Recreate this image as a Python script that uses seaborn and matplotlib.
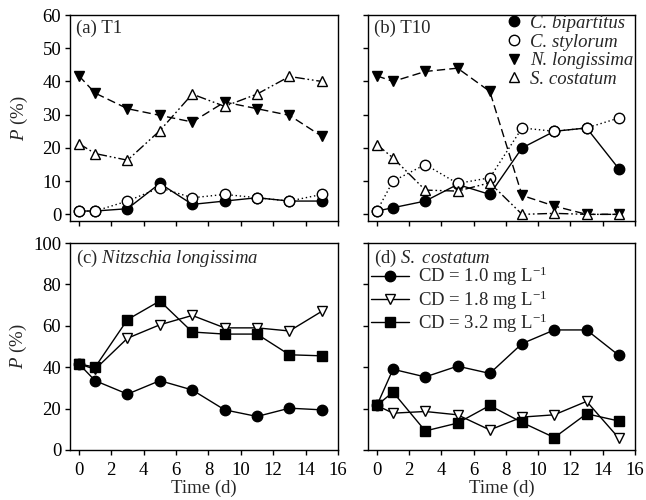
import matplotlib
matplotlib.use("Agg")
import matplotlib.pyplot as plt
import seaborn as sns
import pandas as pd
from matplotlib.lines import Line2D

# ---------------- data ----------------
time = [0, 1, 3, 5, 7, 9, 11, 13, 15]

species = ["C. bipartitus", "C. stylorum", "N. longissima", "S. costatum"]

t1_cbip = [1, 1, 1.7, 9.3, 3, 4, 5, 4, 4]
t1_csty = [1, 1, 4, 8, 5, 6, 5, 4, 6]
t1_nlon = [41.7, 36.5, 31.8, 29.8, 27.8, 33.8, 31.8, 29.8, 23.5]
t1_scos = [21.3, 18.3, 16.3, 25.2, 36.2, 32.5, 36.2, 41.5, 40]

t10_cbip = [1, 2, 4, 9, 6, 20, 25, 26, 13.7]
t10_csty = [1, 10, 15, 9.3, 11, 26, 25, 26, 29]
t10_nlon = [41.7, 40, 43, 44, 37, 5.7, 2.5, 0, 0]
t10_scos = [21, 17, 7.3, 7, 9.5, 0, 0.3, 0, 0]

cd_labels = [r"CD = 1.0 mg L$^{\mathregular{-1}}$",
             r"CD = 1.8 mg L$^{\mathregular{-1}}$",
             r"CD = 3.2 mg L$^{\mathregular{-1}}$"]

nl_cd10 = [41.6, 33.5, 27, 33.5, 29, 19.4, 16.2, 20.2, 19.4]
nl_cd18 = [41.6, 39, 54, 60.5, 65, 59, 59, 57.5, 67]
nl_cd32 = [41.6, 40, 63, 72, 57, 56, 56, 46, 45.5]

sc_cd10 = [21.5, 39, 35.3, 40.5, 37, 51.4, 58, 58, 45.7]
sc_cd18 = [21.5, 17.8, 18.6, 17, 9.7, 15.9, 17, 23.5, 5.7]
sc_cd32 = [21.5, 28, 9.2, 13, 21.5, 13.3, 6, 17.5, 14]

# ---------------- style ----------------
sns.set_theme(style="ticks")
plt.rcParams["font.family"] = ["Liberation Serif", "DejaVu Serif"]
plt.rcParams["mathtext.fontset"] = "custom"
plt.rcParams["mathtext.rm"] = "Liberation Serif"
plt.rcParams["mathtext.it"] = "Liberation Serif:italic"
plt.rcParams["axes.linewidth"] = 1.0

FS = 13.5
MS = 7.5

fig = plt.figure(figsize=(6.46, 5.0), dpi=100)
W, H = 646, 500


def make_ax(l, r, t, b):
    return fig.add_axes([l / W, 1 - b / H, (r - l) / W, (b - t) / H])


ax_a = make_ax(70, 338, 15, 221)
ax_b = make_ax(368, 635, 15, 221)
ax_c = make_ax(70, 338, 243, 450)
ax_d = make_ax(368, 635, 243, 450)

sp_styles = [
    dict(marker="o", mfc="black", ls="-"),
    dict(marker="o", mfc="white", ls=(0, (1, 2))),
    dict(marker="v", mfc="black", ls=(0, (6, 3))),
    dict(marker="^", mfc="white", ls=(0, (7, 2, 1.2, 2, 1.2, 2))),
]


def plot_series(ax, y, st, z):
    df = pd.DataFrame({"t": time, "p": y})
    sns.lineplot(data=df, x="t", y="p", ax=ax, color="black",
                 linestyle=st["ls"], linewidth=1.0, marker=st["marker"],
                 markersize=MS, markerfacecolor=st["mfc"],
                 markeredgecolor="black", markeredgewidth=1.0,
                 zorder=z, clip_on=False)


for ax, data in [(ax_a, [t1_cbip, t1_csty, t1_nlon, t1_scos]),
                 (ax_b, [t10_cbip, t10_csty, t10_nlon, t10_scos])]:
    for i in range(4):
        plot_series(ax, data[i], sp_styles[i], 3 + i)

cd_styles = [
    dict(marker="o", mfc="black", ls="-"),
    dict(marker="v", mfc="white", ls="-"),
    dict(marker="s", mfc="black", ls="-"),
]
for ax, data in [(ax_c, [nl_cd10, nl_cd18, nl_cd32]),
                 (ax_d, [sc_cd10, sc_cd18, sc_cd32])]:
    for i in range(3):
        plot_series(ax, data[i], cd_styles[i], 3 + i)

for ax in [ax_a, ax_b, ax_c, ax_d]:
    ax.set_xlim(-0.55, 16)
    ax.set_xticks(range(0, 17, 2))
    ax.tick_params(direction="out", length=3.8, width=1.0, labelsize=FS,
                   colors="black")
    ax.tick_params(axis="x", pad=4.5)
    ax.tick_params(axis="y", pad=2.5)
    for s in ax.spines.values():
        s.set_visible(True)
        s.set_color("black")
        s.set_linewidth(1.0)
    ax.set_xlabel("")
    ax.set_ylabel("")

for ax in [ax_a, ax_b]:
    ax.set_ylim(-2, 60)
    ax.set_yticks(range(0, 61, 10))
    ax.tick_params(axis="x", labelbottom=False)
for ax in [ax_c, ax_d]:
    ax.set_ylim(0, 100)
    ax.set_yticks(range(0, 101, 20))
    ax.set_xlabel("Time (d)", fontsize=FS, labelpad=0.5)

ax_b.tick_params(axis="y", labelleft=False)
ax_d.tick_params(axis="y", labelleft=False)

ax_a.set_ylabel(r"$P$ (%)", fontsize=FS, labelpad=9)
ax_c.set_ylabel(r"$P$ (%)", fontsize=FS, labelpad=3)

# panel titles
tx, ty = 0.022, 0.978
ax_a.text(tx, ty, "(a) T1", transform=ax_a.transAxes, va="top",
          ha="left", fontsize=FS)
ax_b.text(tx, ty, "(b) T10", transform=ax_b.transAxes, va="top",
          ha="left", fontsize=FS)
ax_c.text(tx, ty, r"(c) $\mathit{Nitzschia\ longissima}$",
          transform=ax_c.transAxes, va="top", ha="left", fontsize=FS)
ax_d.text(tx, ty, r"(d) $\mathit{S.\ costatum}$",
          transform=ax_d.transAxes, va="top", ha="left", fontsize=FS)

# legend panel b (markers only)
hb = [Line2D([], [], color="black", linestyle="none", marker=st["marker"],
             markersize=MS, markerfacecolor=st["mfc"],
             markeredgecolor="black") for st in sp_styles]
ax_b.legend(hb, species, loc="upper right", bbox_to_anchor=(1.0, 1.01),
            frameon=False, prop={"style": "italic", "size": FS},
            handlelength=0.8, handletextpad=0.45, labelspacing=0.08,
            borderaxespad=0.0, borderpad=0.1)

# legend panel d
hd = [Line2D([], [], color="black", linestyle="-", linewidth=1.0,
             marker=st["marker"], markersize=MS, markerfacecolor=st["mfc"],
             markeredgecolor="black") for st in cd_styles]
ax_d.legend(hd, cd_labels, loc="upper left", bbox_to_anchor=(0.012, 0.895),
            frameon=False, fontsize=FS, handlelength=2.0,
            handletextpad=0.5, labelspacing=0.0, borderaxespad=0.0,
            borderpad=0.0)

fig.savefig("out.png", dpi=100)
